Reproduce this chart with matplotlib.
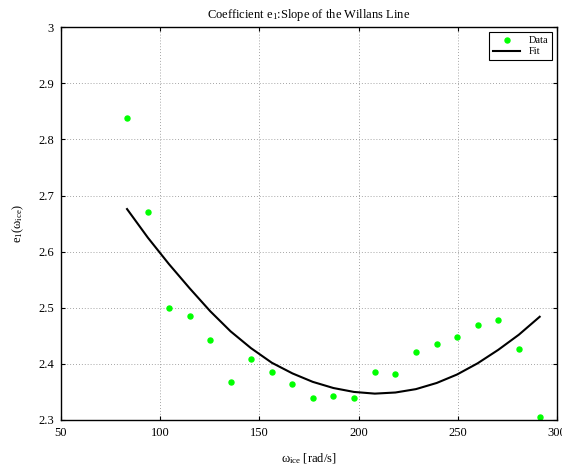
import matplotlib
matplotlib.use("Agg")
import matplotlib.pyplot as plt

# speed [rad/s]
omega = [83.3, 93.8, 104.4, 114.8, 125.2, 135.5, 145.8, 156.3, 166.7, 176.9, 187.3,
         197.7, 208.2, 218.6, 228.9, 239.4, 249.6, 260.0, 270.4, 280.8, 291.3]
# measured e1
e1_data = [2.838, 2.671, 2.499, 2.486, 2.443, 2.368, 2.408, 2.386, 2.365, 2.339, 2.343,
           2.340, 2.386, 2.382, 2.421, 2.435, 2.448, 2.469, 2.479, 2.427, 2.305]
# fitted e1
e1_fit = [2.676, 2.625, 2.578, 2.535, 2.494, 2.458, 2.428, 2.402, 2.383, 2.368, 2.357,
          2.350, 2.347, 2.349, 2.355, 2.366, 2.381, 2.401, 2.425, 2.452, 2.484]

plt.rcParams['font.family'] = ['Liberation Serif', 'DejaVu Serif']
plt.rcParams['mathtext.fontset'] = 'custom'
plt.rcParams['mathtext.rm'] = 'Liberation Serif'
plt.rcParams['mathtext.it'] = 'Liberation Serif'
font_size = 9

fig = plt.figure(figsize=(5.62, 4.69), dpi=100)
ax = fig.add_axes([0.1085, 0.1045, 0.8825, 0.8373])

ax.plot(omega, e1_data, linestyle='none', marker='o', markersize=3.6,
        color='#00ff00', markeredgecolor='#00ff00', label='Data')
ax.plot(omega, e1_fit, color='black', linewidth=1.5, label='Fit')

ax.set_xlim(50, 300)
ax.set_ylim(2.3, 3.0)
ax.set_xticks([50, 100, 150, 200, 250, 300])
ax.set_yticks([2.3, 2.4, 2.5, 2.6, 2.7, 2.8, 2.9, 3.0])
ax.set_xticklabels(['50', '100', '150', '200', '250', '300'])
ax.set_yticklabels(['2.3', '2.4', '2.5', '2.6', '2.7', '2.8', '2.9', '3'])
ax.tick_params(direction='in', top=True, right=True, labelsize=font_size,
               length=3, width=0.8, pad=5)
ax.grid(True, linestyle=(0, (1, 2.5)), color='#888888', linewidth=0.6)
for s in ax.spines.values():
    s.set_linewidth(1.0)

ax.set_title('Coefficient e$_{\\rm 1}$:Slope of the Willans Line', fontsize=font_size, pad=7)
ax.set_xlabel('\u03c9$_{\\rm ice}$ [rad/s]', fontsize=font_size, labelpad=9)
ax.set_ylabel('e$_{\\rm 1}$(\u03c9$_{\\rm ice}$)', fontsize=font_size, labelpad=9)

leg = ax.legend(loc='upper right', fontsize=7.5, fancybox=False, framealpha=1,
                edgecolor='black', borderaxespad=0.45, handlelength=2.6,
                borderpad=0.4, labelspacing=0.15)
leg.get_frame().set_linewidth(0.8)

fig.savefig('out.png', dpi=100)
